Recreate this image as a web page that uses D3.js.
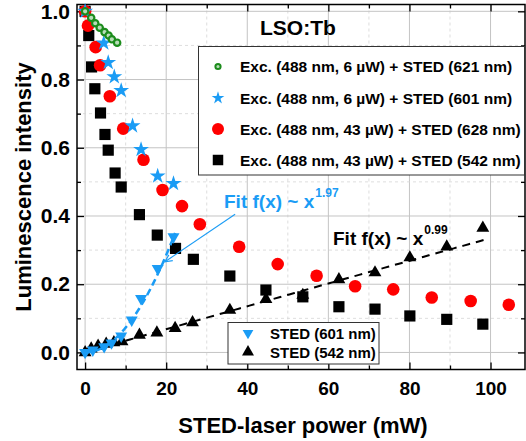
<!DOCTYPE html>
<html>
<head>
<meta charset="utf-8">
<script src="https://cdn.jsdelivr.net/npm/d3@7"></script>
<style>
  body { margin:0; background:#fff; }
  text { font-family: "Liberation Sans", Arial, sans-serif; font-weight: bold; }
</style>
</head>
<body>
<svg width="526" height="441"></svg>
<script>
// values (power in mW, normalized intensity)
var exc621Power = [0, 1.5, 2.5, 3.6, 4.8, 5.8, 6.6, 7.9];
var exc621Lum   = [1.0, 0.981, 0.965, 0.952, 0.939, 0.929, 0.918, 0.908];

var exc601Power = [0, 4.6, 5.7, 7.2, 8.9, 11.7, 13.8, 17.9, 21.8];
var exc601Lum   = [1.0, 0.907, 0.850, 0.808, 0.768, 0.664, 0.595, 0.517, 0.495];

var exc628Power = [0, 0.7, 2.6, 3.7, 6.1, 9.4, 14.4, 19.1, 23.9, 28.3, 38.0, 47.5, 57.1, 66.6, 76.0, 85.5, 95.1, 104.5];
var exc628Lum   = [1.0, 0.958, 0.895, 0.842, 0.751, 0.656, 0.565, 0.476, 0.429, 0.376, 0.310, 0.259, 0.225, 0.194, 0.185, 0.161, 0.151, 0.140];

var exc542Power = [0, 0.9, 1.6, 2.4, 3.8, 4.9, 5.7, 7.4, 8.9, 13.4, 17.8, 22.3, 26.7, 35.7, 44.6, 53.7, 62.6, 71.5, 80.1, 89.2, 98.1];
var exc542Lum   = [1.0, 0.929, 0.837, 0.773, 0.702, 0.639, 0.593, 0.526, 0.485, 0.404, 0.344, 0.305, 0.273, 0.224, 0.183, 0.163, 0.134, 0.127, 0.107, 0.097, 0.083];

var sted601Power = [0, 1.9, 4.7, 6.5, 8.9, 11.5, 13.8, 17.9, 21.8];
var sted601Lum   = [0, 0.007, 0.017, 0.028, 0.048, 0.095, 0.158, 0.246, 0.339];

var sted542Power = [0, 1.5, 3.2, 5.2, 7.1, 9.1, 13.4, 17.7, 22.2, 26.5, 35.7, 44.6, 53.7, 62.6, 71.5, 80.1, 89.2, 98.1];
var sted542Lum   = [0, 0.011, 0.019, 0.025, 0.029, 0.032, 0.051, 0.058, 0.071, 0.088, 0.124, 0.156, 0.168, 0.214, 0.234, 0.278, 0.310, 0.365];

// power-law fits shown in the figure
var fit601 = { exp: 1.97, coef: 0.00078, xMax: 22.2 };
var fit542 = { exp: 0.99, coef: 0.00351, xMax: 98.3 };

var xMajor = [0, 20, 40, 60, 80, 100];
var xMinor = [10, 30, 50, 70, 90];
var yMajor = [0, 0.2, 0.4, 0.6, 0.8, 1.0];
var yMinor = [0.1, 0.3, 0.5, 0.7, 0.9];

var legendLabels = [
  "Exc. (488 nm, 6 \u00b5W) + STED (621 nm)",
  "Exc. (488 nm, 6 \u00b5W) + STED (601 nm)",
  "Exc. (488 nm, 43 \u00b5W) + STED (628 nm)",
  "Exc. (488 nm, 43 \u00b5W) + STED (542 nm)"
];
var legend2Labels = ["STED (601 nm)", "STED (542 nm)"];

var blue = "#1a9cf5", green = "#1c8c1c", red = "#ff0000", black = "#000";

var svg = d3.select("svg");
var L = 77, R = 525, T = 4.5, B = 369.5;

var x = d3.scaleLinear().domain([-2, 108.5]).range([L, R]);
var y = d3.scaleLinear().domain([-0.05, 1.02]).range([B, T]);

// grid
var grid = svg.append("g");
grid.selectAll(".gxm").data(xMajor).enter().append("line")
  .attr("x1", d => x(d)).attr("x2", d => x(d)).attr("y1", T).attr("y2", B)
  .attr("stroke", "#c4c4c4").attr("stroke-width", 1);
grid.selectAll(".gxn").data(xMinor).enter().append("line")
  .attr("x1", d => x(d)).attr("x2", d => x(d)).attr("y1", T).attr("y2", B)
  .attr("stroke", "#d4d4d4").attr("stroke-width", 0.8).attr("stroke-dasharray", "3,3");
grid.selectAll(".gym").data(yMajor).enter().append("line")
  .attr("y1", d => y(d)).attr("y2", d => y(d)).attr("x1", L).attr("x2", R)
  .attr("stroke", "#c4c4c4").attr("stroke-width", 1);
grid.selectAll(".gyn").data(yMinor).enter().append("line")
  .attr("y1", d => y(d)).attr("y2", d => y(d)).attr("x1", L).attr("x2", R)
  .attr("stroke", "#d4d4d4").attr("stroke-width", 0.8).attr("stroke-dasharray", "3,3");

// axes (ticks pointing inward)
function styleAxis(size) {
  return function (g) {
    g.select(".domain").remove();
    g.selectAll("line").attr("stroke", "#000").attr("stroke-width", 1.3);
    g.selectAll("text").attr("font-size", size).attr("fill", "#000");
  };
}
svg.append("g").attr("transform", "translate(0," + B + ")")
  .call(d3.axisBottom(x).tickValues(xMajor).tickSize(-7).tickPadding(12)).call(styleAxis("19px"));
svg.append("g").attr("transform", "translate(0," + B + ")")
  .call(d3.axisBottom(x).tickValues(xMinor).tickSize(-4).tickFormat("")).call(styleAxis("19px"));
svg.append("g").attr("transform", "translate(0," + T + ")")
  .call(d3.axisTop(x).tickValues(xMajor).tickSize(-7).tickFormat("")).call(styleAxis("19px"));
svg.append("g").attr("transform", "translate(0," + T + ")")
  .call(d3.axisTop(x).tickValues(xMinor).tickSize(-4).tickFormat("")).call(styleAxis("19px"));
svg.append("g").attr("transform", "translate(" + L + ",0)")
  .call(d3.axisLeft(y).tickValues(yMajor).tickSize(-7).tickPadding(7).tickFormat(d3.format(".1f"))).call(styleAxis("21px"));
svg.append("g").attr("transform", "translate(" + L + ",0)")
  .call(d3.axisLeft(y).tickValues(yMinor).tickSize(-4).tickFormat("")).call(styleAxis("21px"));
svg.append("g").attr("transform", "translate(" + R + ",0)")
  .call(d3.axisRight(y).tickValues(yMajor).tickSize(-7).tickFormat("")).call(styleAxis("19px"));
svg.append("g").attr("transform", "translate(" + R + ",0)")
  .call(d3.axisRight(y).tickValues(yMinor).tickSize(-4).tickFormat("")).call(styleAxis("19px"));

svg.append("rect").attr("x", L).attr("y", T).attr("width", R - L).attr("height", B - T)
  .attr("fill", "none").attr("stroke", "#000").attr("stroke-width", 1.5);

// axis titles
svg.append("text").attr("x", 303).attr("y", 433).attr("text-anchor", "middle")
  .attr("font-size", "22px").text("STED-laser power (mW)");
svg.append("text").attr("transform", "translate(31,187) rotate(-90)").attr("text-anchor", "middle")
  .attr("font-size", "22px").text("Luminescence intensity");

function zip(px, py) { return px.map((p, i) => [p, py[i]]); }

var sq = d3.symbol().type(d3.symbolSquare).size(125);
var tri = d3.symbol().type(d3.symbolTriangle).size(72);
var triDown = d3.symbol().type(d3.symbolTriangle).size(62);
var star = d3.symbol().type(d3.symbolStar).size(78);

var plot = svg.append("g");

// black squares
plot.selectAll(".sq").data(zip(exc542Power, exc542Lum)).enter().append("path")
  .attr("d", sq).attr("transform", d => "translate(" + x(d[0]) + "," + y(d[1]) + ")")
  .attr("fill", black);
// red circles
plot.selectAll(".rc").data(zip(exc628Power, exc628Lum)).enter().append("circle")
  .attr("cx", d => x(d[0])).attr("cy", d => y(d[1])).attr("r", 6.3).attr("fill", red);
// blue stars
plot.selectAll(".st").data(zip(exc601Power, exc601Lum)).enter().append("path")
  .attr("d", star).attr("transform", d => "translate(" + x(d[0]) + "," + y(d[1]) + ")")
  .attr("fill", blue);
// green circles
plot.selectAll(".gc").data(zip(exc621Power, exc621Lum)).enter().append("circle")
  .attr("cx", d => x(d[0])).attr("cy", d => y(d[1])).attr("r", 3.2)
  .attr("fill", "#b8dcb8").attr("stroke", green).attr("stroke-width", 2.2);

// fits
function fitPoints(f) {
  return d3.range(0, 81).map(i => { var v = f.xMax * i / 80; return [v, f.coef * Math.pow(v, f.exp)]; });
}
var line = d3.line().x(d => x(d[0])).y(d => y(d[1]));

// black up triangles
plot.selectAll(".bt").data(zip(sted542Power, sted542Lum)).enter().append("path")
  .attr("d", tri).attr("transform", d => "translate(" + x(d[0]) + "," + y(d[1]) + ")")
  .attr("fill", black);
plot.append("path").datum(fitPoints(fit542)).attr("d", line)
  .attr("fill", "none").attr("stroke", black).attr("stroke-width", 2).attr("stroke-dasharray", "8,6");

// blue down triangles
plot.selectAll(".btd").data(zip(sted601Power, sted601Lum)).enter().append("path")
  .attr("d", triDown).attr("transform", d => "translate(" + x(d[0]) + "," + y(d[1]) + ") rotate(180)")
  .attr("fill", blue);
plot.append("path").datum(fitPoints(fit601)).attr("d", line)
  .attr("fill", "none").attr("stroke", blue).attr("stroke-width", 2.5).attr("stroke-dasharray", "7,4");

// fit annotations
function fitLabel(px, py, exp, color) {
  var t = svg.append("text").attr("x", px).attr("y", py).attr("font-size", "19px")
    .attr("fill", color).text("Fit f(x) ~ x");
  var w = t.node().getComputedTextLength();
  svg.append("text").attr("x", px + w + 1).attr("y", py - 11).attr("font-size", "12px")
    .attr("fill", color).text(exp);
}
fitLabel(224, 208, "1.97", blue);
fitLabel(333, 245, "0.99", black);

svg.append("defs").append("marker").attr("id", "arr").attr("viewBox", "0 0 10 10")
  .attr("refX", 9).attr("refY", 5).attr("markerWidth", 8).attr("markerHeight", 8)
  .attr("orient", "auto").append("path").attr("d", "M1,1 L9,5 L1,9")
  .attr("fill", "none").attr("stroke", blue).attr("stroke-width", 1.3);
svg.append("line").attr("x1", x(37)).attr("y1", y(0.405)).attr("x2", x(19.7)).attr("y2", y(0.266))
  .attr("stroke", blue).attr("stroke-width", 1.1).attr("marker-end", "url(#arr)");

// title
svg.append("text").attr("x", 260).attr("y", 35).attr("font-size", "21px").text("LSO:Tb");

// legend 1
var lg = svg.append("g");
lg.append("rect").attr("x", 198.5).attr("y", 46.5).attr("width", 326).attr("height", 128.5)
  .attr("fill", "#fff").attr("stroke", "#333").attr("stroke-width", 1);
var rowsY = [66.5, 98, 129, 160];
lg.append("circle").attr("cx", 218).attr("cy", rowsY[0]).attr("r", 2.6)
  .attr("fill", "#b8dcb8").attr("stroke", green).attr("stroke-width", 2);
lg.append("path").attr("d", d3.symbol().type(d3.symbolStar).size(50))
  .attr("transform", "translate(218," + rowsY[1] + ")").attr("fill", blue);
lg.append("circle").attr("cx", 218).attr("cy", rowsY[2]).attr("r", 6).attr("fill", red);
lg.append("path").attr("d", d3.symbol().type(d3.symbolSquare).size(110))
  .attr("transform", "translate(218," + rowsY[3] + ")").attr("fill", black);
lg.selectAll(".lt").data(legendLabels).enter().append("text")
  .attr("x", 240).attr("y", (d, i) => rowsY[i] + 5.5).attr("font-size", "15.5px").text(d => d);

// legend 2
var lg2 = svg.append("g");
lg2.append("rect").attr("x", 228).attr("y", 322.5).attr("width", 151).attr("height", 41.5)
  .attr("fill", "#fff").attr("stroke", "#333").attr("stroke-width", 1);
var rows2 = [333, 352];
lg2.append("path").attr("d", d3.symbol().type(d3.symbolTriangle).size(50))
  .attr("transform", "translate(248," + rows2[0] + ") rotate(180)").attr("fill", blue);
lg2.append("path").attr("d", d3.symbol().type(d3.symbolTriangle).size(62))
  .attr("transform", "translate(248," + rows2[1] + ")").attr("fill", black);
lg2.selectAll(".lt2").data(legend2Labels).enter().append("text")
  .attr("x", 270).attr("y", (d, i) => rows2[i] + 5.5).attr("font-size", "15px").text(d => d);
</script>
</body>
</html>
